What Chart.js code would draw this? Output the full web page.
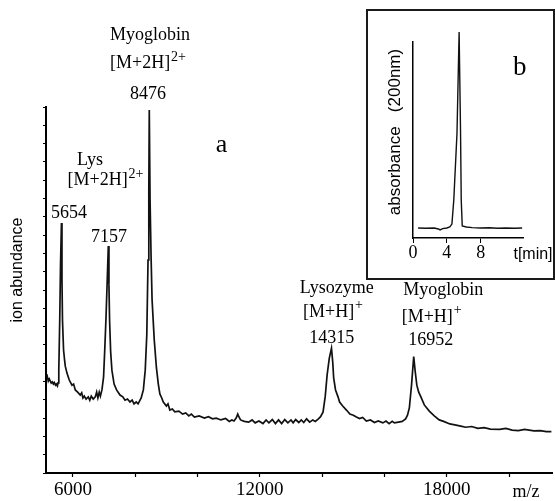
<!DOCTYPE html>
<html><head><meta charset="utf-8">
<script src="https://cdn.jsdelivr.net/npm/chart.js@4"></script>
<style>
html,body{margin:0;padding:0;background:#fff;}
#wrap{position:relative;width:555px;height:501px;overflow:hidden;background:#fff;}
#main{position:absolute;left:0;top:0;width:555px;height:501px;}
#insetBox{position:absolute;left:366px;top:9px;width:189px;height:271px;border:2px solid #1a1a1a;box-sizing:border-box;background:#fff;}
#inset{position:absolute;left:0;top:0;width:185px;height:267px;}
</style></head><body>
<div id="wrap">
<canvas id="main" width="555" height="501"></canvas>
<div id="insetBox"><canvas id="inset" width="185" height="267"></canvas></div>
</div>
<script>
// ---- main spectrum (m/z vs ion abundance) ----
const mz = [
 5159,5185,5207,5240,5272,5300,5336,5370,5400,5440,
 5464,5500,5520,5545,5575,5600,5630,5647,5663,5698,
 5730,5753,5807,5881,5968,6020,6074,6150,6234,6280,
 6320,6363,6420,6491,6540,6587,6650,6716,6760,6800,
 6844,6880,6930,6982,7020,7060,7100,7135,7155,7175,
 7210,7250,7320,7400,7510,7600,7670,7750,7830,7900,
 7960,8030,8090,8140,8190,8260,8320,8370,8410,8435,
 8450,8475,8510,8540,8610,8680,8740,8790,8850,8900,
 9000,9050,9110,9190,9270,9400,9520,9620,9720,9800,
 9900,10050,10220,10350,10480,10600,10750,10900,11020,11100,
 11170,11240,11290,11330,11380,11500,11640,11750,11850,11970,
 12100,12200,12290,12400,12500,12600,12700,12800,12900,13000,
 13070,13150,13250,13330,13410,13500,13600,13700,13780,13880,
 13950,14030,14100,14160,14230,14300,14340,14370,14430,14510,
 14560,14660,14780,14890,15000,15100,15200,15300,15420,15550,
 15680,15800,15950,16050,16150,16250,16320,16450,16570,16680,
 16740,16800,16870,16940,16990,17040,17100,17170,17280,17440,
 17600,17760,17900,18100,18300,18450,18610,18800,19000,19200,
 19400,19700,19900,20100,20300,20500,20800,21000,21200,21360
];
const abundance = [
 27.0,26.0,25.1,25.7,25.1,24.6,24.9,24.3,24.7,24.0,
 24.3,23.8,24.6,28.1,41.8,56.8,68.3,52.7,41.8,33.6,
 30.9,29.2,27.3,25.4,24.0,24.3,22.7,22.1,21.3,21.9,
 20.5,21.0,20.2,20.8,19.9,21.0,20.2,20.8,22.1,20.5,
 22.1,21.0,22.7,26.2,33.6,42.3,52.7,62.0,51.4,41.8,
 33.1,28.1,24.3,22.7,21.3,20.8,19.9,20.2,19.4,19.9,
 18.9,19.4,18.9,19.7,20.5,22.7,28.1,37.7,58.2,77.3,
 99.2,74.6,58.2,47.3,36.3,28.7,24.3,21.6,20.5,19.4,
 18.3,18.9,17.2,17.5,16.7,16.9,16.1,16.4,15.6,16.1,
 15.3,15.6,15.0,15.4,14.8,15.0,14.5,14.9,14.1,14.5,
 14.2,15.0,16.1,15.3,14.5,14.1,13.9,14.5,13.7,14.2,
 13.5,14.5,13.7,14.6,13.5,14.5,13.5,14.6,13.7,14.5,
 13.7,14.6,13.8,14.5,13.8,14.8,13.9,14.5,14.1,14.8,
 15.4,16.7,21.0,26.8,31.4,34.1,30.3,26.0,22.7,20.8,
 19.4,18.3,17.2,16.1,15.8,15.3,14.9,15.2,14.2,14.5,
 13.8,14.2,13.7,14.2,13.5,14.1,13.7,13.9,14.1,14.8,
 15.8,17.8,24.0,31.8,27.6,24.0,22.1,20.8,18.6,16.9,
 15.6,14.5,14.1,13.4,13.1,12.8,12.5,12.7,12.2,12.4,
 12.0,11.9,12.2,11.7,11.6,11.9,11.5,11.6,11.3,11.3
];
const xTickValues = [6000,8000,10000,12000,14000,16000,18000,20000];
const xTickLabels = ['6000','','','12000','','','18000',''];
const yTickValues = [0,5,10,15,20,25,30,35,40,45,50,55,60,65,70,75,80,85,90,95,100];
const peakLabels = ['5654','7157','8476','14315','16952'];
const xAxisTitle = 'm/z';
const yAxisTitle = 'ion abundance';

// ---- inset chromatogram (time vs absorbance) ----
const insetTime = [0.6,1.5,2.5,3.0,3.2,3.5,4.0,4.35,4.6,4.82,5.2,5.45,5.62,5.7,5.82,6.3,7.0,8.0,9.0,10.0,11.0,12.0,12.9];
const insetAbsorbance = [5.1,5.0,5.1,4.6,4.1,4.8,5.1,5.6,7.1,19.4,53.6,105.1,53.6,19.4,6.1,5.6,5.3,5.1,5.2,5.0,5.1,5.0,5.1];
const insetTicks = [0,4,8];
const insetXTitle = 't[min]';
const insetYTitle = 'absorbance   (200nm)';

const SERIF = '"Liberation Serif", "Times New Roman", serif';
const SANS = '"Liberation Sans", Arial, sans-serif';

const textPlugin = {
  id: 'texts',
  afterDraw(chart, args, opts) {
    const ctx = chart.ctx;
    (opts.items || []).forEach(it => {
      ctx.save();
      ctx.fillStyle = '#000';
      ctx.font = it.font;
      ctx.textBaseline = it.baseline || 'alphabetic';
      if (it.rotate) {
        ctx.translate(it.x, it.y);
        ctx.rotate(it.rotate);
        ctx.textAlign = 'center';
        ctx.fillText(it.text, 0, 0);
      } else if (it.sup) {
        const w1 = ctx.measureText(it.text).width;
        ctx.font = it.supFont;
        const w2 = ctx.measureText(it.sup).width;
        const start = it.x - (w1 + w2 + 1) / 2;
        ctx.textAlign = 'left';
        ctx.font = it.font;
        ctx.fillText(it.text, start, it.y);
        ctx.font = it.supFont;
        ctx.fillText(it.sup, start + w1 + 1, it.y - it.supRise);
      } else {
        ctx.textAlign = it.align || 'center';
        ctx.fillText(it.text, it.x, it.y);
      }
      ctx.restore();
    });
  }
};

const F18 = '18px ' + SERIF;
const SUP = '14px ' + SERIF;

new Chart(document.getElementById('main'), {
  type: 'line',
  data: { datasets: [{
    data: mz.map((m, i) => ({ x: m, y: abundance[i] })),
    borderColor: '#111', borderWidth: 1.7, pointRadius: 0, tension: 0, fill: false
  }]},
  options: {
    responsive: false, animation: false, devicePixelRatio: 1,
    layout: { padding: { top: 107, right: 3, left: 0, bottom: 0 } },
    plugins: {
      legend: { display: false }, tooltip: { enabled: false },
      texts: { items: [
        { text: 'Myoglobin', x: 150, y: 39.5, font: F18 },
        { text: '[M+2H]', sup: '2+', x: 148, y: 68, font: F18, supFont: SUP, supRise: 7 },
        { text: peakLabels[2], x: 148, y: 99.3, font: F18 },
        { text: 'a', x: 221.5, y: 151.7, font: '26px ' + SERIF },
        { text: 'Lys', x: 90, y: 165, font: F18 },
        { text: '[M+2H]', sup: '2+', x: 105.5, y: 185, font: F18, supFont: SUP, supRise: 7 },
        { text: peakLabels[0], x: 69, y: 218, font: F18 },
        { text: peakLabels[1], x: 109, y: 241.5, font: F18 },
        { text: 'Lysozyme', x: 336.7, y: 293, font: F18 },
        { text: '[M+H]', sup: '+', x: 333, y: 316.7, font: F18, supFont: SUP, supRise: 8 },
        { text: peakLabels[3], x: 331.7, y: 343, font: F18 },
        { text: 'Myoglobin', x: 443.3, y: 295, font: F18 },
        { text: '[M+H]', sup: '+', x: 431.7, y: 321.7, font: F18, supFont: SUP, supRise: 8 },
        { text: peakLabels[4], x: 430.8, y: 345, font: F18 },
        { text: xAxisTitle, x: 526, y: 497, font: F18 },
        { text: yAxisTitle, x: 18, y: 270, font: '16px ' + SANS, rotate: -Math.PI / 2, baseline: 'middle' }
      ]}
    },
    scales: {
      x: {
        type: 'linear', min: 5134, max: 21380,
        afterFit(s) { s.height = 28; },
        afterBuildTicks(s) { s.ticks = xTickValues.map(v => ({ value: v })); },
        grid: { drawOnChartArea: false, drawTicks: true, tickLength: 4, color: '#000', tickWidth: 1.2 },
        border: { display: true, color: '#000', width: 2 },
        ticks: { font: { family: SERIF, size: 19, lineHeight: 1 }, color: '#000', padding: 4,
                 maxRotation: 0, autoSkip: false, callback: (v, i) => xTickLabels[i] }
      },
      y: {
        type: 'linear', min: 0, max: 100,
        afterFit(s) { s.width = 46; },
        afterBuildTicks(s) { s.ticks = yTickValues.map(v => ({ value: v })); },
        grid: { drawOnChartArea: false, drawTicks: true, tickLength: 3, color: '#000', tickWidth: 1 },
        border: { display: true, color: '#000', width: 2 },
        ticks: { display: false }
      }
    }
  },
  plugins: [textPlugin]
});

new Chart(document.getElementById('inset'), {
  type: 'line',
  data: { datasets: [{
    data: insetTime.map((t, i) => ({ x: t, y: insetAbsorbance[i] })),
    borderColor: '#111', borderWidth: 1.4, pointRadius: 0, tension: 0, fill: false, clip: false
  }]},
  options: {
    responsive: false, animation: false, devicePixelRatio: 1,
    layout: { padding: { top: 31, right: 30, left: 0, bottom: 0 } },
    plugins: {
      legend: { display: false }, tooltip: { enabled: false },
      texts: { items: [
        { text: insetYTitle, x: 27.5, y: 121, font: '17px ' + SANS, rotate: -Math.PI / 2, baseline: 'middle' },
        { text: 'b', x: 151.7, y: 64, font: '27px ' + SERIF },
        { text: insetXTitle, x: 165, y: 248, font: '16px ' + SANS }
      ]}
    },
    scales: {
      x: {
        type: 'linear', min: 0, max: 13,
        afterFit(s) { s.height = 40; },
        afterBuildTicks(s) { s.ticks = insetTicks.map(v => ({ value: v })); },
        grid: { drawOnChartArea: false, drawTicks: true, tickLength: 5, color: '#000' },
        border: { display: true, color: '#000', width: 1.5 },
        ticks: { font: { family: SERIF, size: 18, lineHeight: 1 }, color: '#000', padding: 1,
                 maxRotation: 0, autoSkip: false }
      },
      y: {
        type: 'linear', min: 0, max: 100,
        afterFit(s) { s.width = 45; },
        grid: { drawOnChartArea: false, drawTicks: false },
        border: { display: true, color: '#000', width: 1.5 },
        ticks: { display: false }
      }
    }
  },
  plugins: [textPlugin]
});
</script>
</body></html>
